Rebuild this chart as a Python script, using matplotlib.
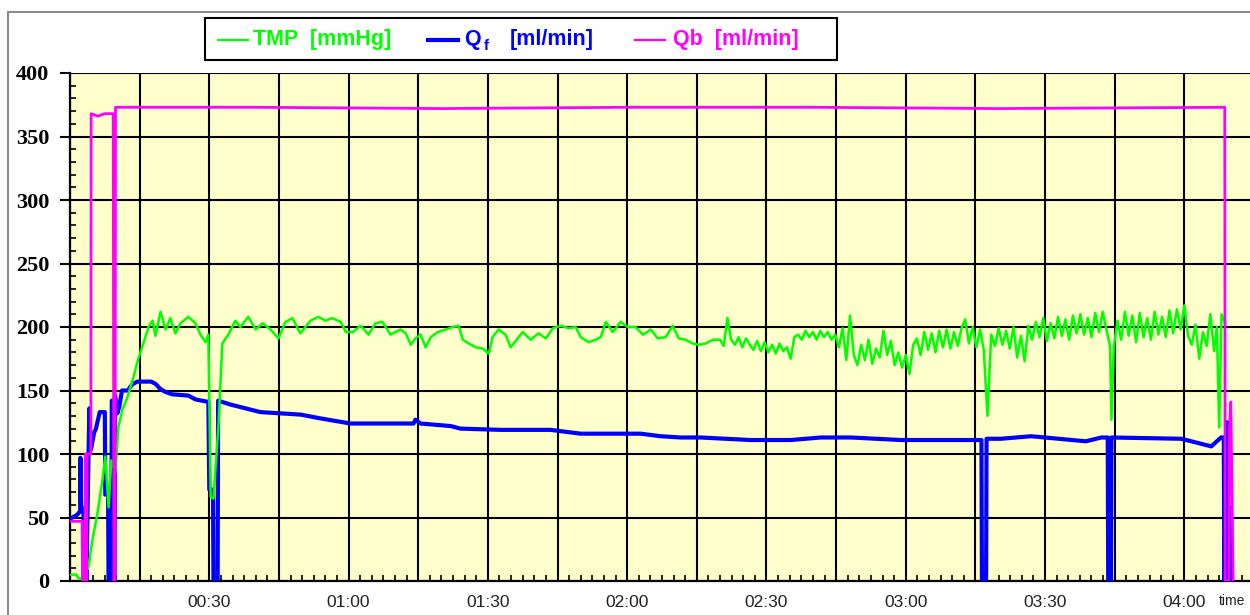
import matplotlib.pyplot as plt
from matplotlib.lines import Line2D
from matplotlib.patches import Rectangle
from matplotlib.ticker import MultipleLocator, FixedLocator

# time in minutes from start of treatment
tmp_t = [0.1, 1.4, 1.8, 2.7, 4.0, 4.8, 5.9, 7.0, 7.6, 8.3, 8.9, 9.8, 10.4, 11.3, 12.4,
         13.7, 14.7, 15.8, 16.9, 17.8, 18.4, 19.5, 20.6, 21.6, 22.7, 23.8, 25.5, 27.0,
         28.1, 29.2, 29.8, 30.3, 30.9, 32.0, 32.8, 34.1, 35.6, 36.7, 38.4, 40.0, 41.5,
         43.2, 44.9, 46.4, 47.9, 49.6, 51.8, 53.5, 55.0, 56.5, 58.3, 59.4, 60.9, 62.6,
         64.3, 65.8, 67.3, 69.0, 71.2, 72.3, 73.4, 74.4, 75.5, 76.6, 77.7, 79.2, 80.9,
         82.4, 83.7, 84.6, 85.9, 87.4, 88.9, 90.2, 91.0, 92.3, 93.8, 94.9, 96.4, 97.5,
         99.2, 100.9, 102.5, 104.0, 105.7, 107.4, 108.9, 110.0, 111.7, 113.2, 114.3,
         115.4, 116.9, 118.6, 120.1, 121.8, 123.4, 125.1, 126.6, 128.3, 129.8, 131.1,
         132.6, 134.1, 135.4, 136.9, 138.5,
         140.0, 140.8, 141.6, 142.4, 143.2, 144.0, 144.8, 145.6, 146.4, 147.2, 148.0,
         148.8, 149.6, 150.4, 151.2, 152.0, 152.8, 153.6, 154.4, 155.2, 156.0, 156.8,
         157.6, 158.4, 159.2, 160.0, 160.8, 161.6, 162.4, 163.2, 164.0, 164.8, 165.6,
         166.4, 167.2, 168.0, 168.8, 169.6, 170.4, 171.2, 172.0, 172.8, 173.6, 174.4,
         175.2, 176.0, 176.8, 177.6, 178.4, 179.2, 180.0, 180.8, 181.6, 182.4, 183.2,
         184.0, 184.8, 185.6, 186.4, 187.2, 188.0, 188.8, 189.6, 190.4, 191.2, 192.0,
         192.8, 193.6, 194.4, 195.2, 196.0, 196.8, 197.6, 198.4, 199.2, 200.0, 200.8,
         201.6, 202.4, 203.2, 204.0, 204.8, 205.6, 206.4, 207.2, 208.0, 208.8, 209.6,
         210.4, 211.2, 212.0, 212.8, 213.6, 214.4, 215.2, 216.0, 216.8, 217.6, 218.4,
         219.2, 220.0, 220.8, 221.6, 222.4, 223.2, 224.0, 224.3, 224.8, 225.6, 226.4,
         227.2, 228.0, 228.8, 229.6, 230.4, 231.2, 232.0, 232.8, 233.6, 234.4, 235.2,
         236.0, 236.8, 237.6, 238.4, 239.2, 240.0, 240.8, 241.6, 242.4, 243.2, 244.0,
         244.8, 245.6, 246.4, 247.0, 247.5, 248.0, 248.8]
tmp_v = [5, 5, 2, 2, 11, 32, 53, 80, 98, 58, 95, 86, 121, 135, 145,
         161, 175, 187, 200, 205, 193, 212, 198, 207, 195, 203, 208, 203,
         194, 188, 194, 66, 65, 124, 187, 194, 205, 200, 208, 198, 203,
         198, 191, 204, 207, 195, 205, 208, 205, 207, 204, 196, 196, 201,
         194, 203, 204, 194, 198, 195, 186, 191, 194, 184, 192, 196, 198,
         200, 201, 190, 187, 184, 183, 179, 192, 198, 194, 184, 191, 196,
         190, 195, 191, 199, 201, 199, 200, 192, 188, 190, 192,
         204, 196, 204, 200, 200, 194, 198, 191, 192, 201, 191,
         190, 187, 186, 187, 190,
         190, 185, 207, 190, 186, 192, 184, 191, 186, 182, 189,
         181, 188, 180, 186, 179, 187, 181, 184, 175, 192, 194,
         190, 197, 192, 196, 190, 197, 192, 196, 190, 194, 184,
         199, 174, 209, 178, 170, 186, 174, 190, 171, 183, 176,
         197, 178, 189, 170, 180, 168, 178, 163, 186, 191, 178,
         196, 182, 195, 180, 197, 184, 198, 183, 196, 185, 199,
         206, 187, 200, 184, 198, 182, 130, 194, 185, 199, 186,
         197, 183, 200, 176, 193, 173, 201, 190, 204, 192, 207,
         189, 203, 191, 208, 193, 206, 190, 209, 195, 210, 194,
         207, 192, 211, 196, 212, 198, 185, 127, 184, 205, 190,
         212, 193, 209, 188, 211, 192, 207, 190, 212, 194, 208,
         192, 213, 195, 214, 198, 217, 193, 186, 202, 175, 196,
         185, 210, 181, 200, 121, 210, 203]

qf_t = [0.0, 1.5, 2.2, 2.24, 2.4, 2.9, 3.0, 3.6, 3.7, 4.0, 4.18, 4.3, 4.6, 5.2, 5.6,
        5.9, 6.4, 7.5, 7.6, 8.2, 8.3, 8.9, 9.0, 9.2, 9.3, 9.6, 9.7, 10.2, 10.6, 11.2,
        12.5, 13.0, 13.5, 14.5, 17.5, 18.5, 19.5, 20.5, 22.0, 25.5, 27.0, 29.8, 30.0,
        30.8, 30.9, 31.8, 31.9, 34.5, 41.0, 49.7, 54.0, 60.4, 74.0, 74.4, 75.5, 82.0,
        84.1, 92.8, 103.5, 110.0, 122.9, 127.2, 131.5, 135.8, 146.6, 155.2, 161.7,
        168.2, 179.0, 189.7, 196.3, 196.4, 197.3, 197.4, 200.5, 207.0, 218.8, 222.1,
        223.5, 223.6, 224.2, 224.3, 239.3, 241.5, 245.8, 247.9, 248.5, 248.6, 249.2,
        249.5, 249.9, 250.1]
qf_v = [49, 52, 55, 97, 55, 57, 0, 0, 38, 102, 136, 102, 105, 117, 120,
        125, 133, 133, 68, 68, 0, 0, 142, 142, 0, 0, 146, 132, 137, 150,
        150, 153, 155, 157, 157, 155, 151, 149, 147, 146, 143, 141, 72,
        72, 0, 0, 142, 139, 133, 131, 128, 124, 124, 127, 124, 122,
        120, 119, 119, 116, 116, 114, 113, 113, 111, 111, 113,
        113, 111, 111, 111, 0, 0, 112, 112, 114, 110, 113,
        113, 0, 0, 113, 112, 110, 106, 113, 113, 0, 125,
        0, 58, 0]

qb_t = [0.0, 2.6, 2.7, 3.2, 3.3, 3.5, 3.7, 4.5, 4.55, 6.0, 7.5, 9.3, 9.35, 9.45,
        9.7, 9.8, 40.0, 80.0, 120.0, 160.0, 200.0, 248.7, 248.8, 249.6, 249.7,
        250.0, 250.3, 250.5]
qb_v = [47, 47, 0, 0, 100, 0, 100, 100, 368, 366, 368, 368, 276, 0,
        0, 373, 373, 372, 373, 373, 372, 373, 0, 0, 120,
        141, 60, 0]

x_ticks = [0, 15, 30, 45, 60, 75, 90, 105, 120, 135, 150, 165, 180, 195, 210, 225, 240]
x_labels = ['', '', '00:30', '', '01:00', '', '01:30', '', '02:00', '', '02:30', '',
            '03:00', '', '03:30', '', '04:00']
y_ticks = [0, 50, 100, 150, 200, 250, 300, 350, 400]

W, H = 1250, 615
fig = plt.figure(figsize=(W / 100, H / 100), dpi=100)

# outer frame
fig.patches.append(Rectangle((8 / W, -0.1), 1.2, (615 - 12) / H + 0.1, transform=fig.transFigure,
                             fill=False, edgecolor='#8c8c8c', linewidth=1.5))

ax = fig.add_axes([70 / W, 1 - 581 / H, 1184 / W, (581 - 73) / H])
ax.set_facecolor('#FFFFCC')
ax.set_xlim(0, 255)
ax.set_ylim(0, 400)

ax.plot(qf_t, qf_v, color='#0000FF', linewidth=3, zorder=3)
ax.plot(tmp_t, tmp_v, color='#00FF00', linewidth=1.8, zorder=4)
ax.plot(qb_t, qb_v, color='#FF00FF', linewidth=2, zorder=5)

ax.xaxis.set_major_locator(FixedLocator(x_ticks))
ax.set_xticklabels(x_labels, fontsize=12.5, family='Liberation Sans', color='#222222')
ax.xaxis.set_minor_locator(MultipleLocator(2.5))
ax.yaxis.set_major_locator(FixedLocator(y_ticks))
ax.set_yticklabels([str(v) for v in y_ticks], fontsize=16, family='Liberation Serif',
                   fontweight='bold')
ax.yaxis.set_minor_locator(MultipleLocator(10))

ax.tick_params(axis='x', which='major', length=0, pad=10)
ax.tick_params(axis='x', which='minor', direction='in', length=4, width=1.2)
ax.tick_params(axis='y', which='major', direction='out', length=7, width=1.5, pad=8)
ax.tick_params(axis='y', which='minor', direction='in', length=4, width=1.2)
ax.grid(True, which='major', color='black', linewidth=1.5, zorder=1)
ax.set_axisbelow(True)
for s in ['top', 'right']:
    ax.spines[s].set_visible(False)
for s in ['left', 'bottom']:
    ax.spines[s].set_linewidth(1.6)

fig.text(1232 / W, 1 - 601 / H, 'time', fontsize=10, family='Liberation Sans',
         ha='center', va='center', color='#222222')

# legend box
fig.patches.append(Rectangle((205 / W, 1 - 60 / H), (837 - 205) / W, 42 / H,
                             transform=fig.transFigure, fill=False,
                             edgecolor='black', linewidth=1.5))
ly = 1 - 40 / H
items = [(218, 248, '#00FF00', 1.6), (428, 458, '#0000FF', 3), (635, 665, '#FF00FF', 1.6)]
for x0, x1, c, lw in items:
    fig.lines.append(Line2D([x0 / W, x1 / W], [ly, ly], transform=fig.transFigure,
                            color=c, linewidth=lw))
lfont = dict(fontsize=15.5, fontweight='bold', family='Liberation Sans', va='center')
fig.text(253 / W, ly, 'TMP  [mmHg]', color='#00FF00', **lfont)
fig.text(464 / W, ly, 'Q', color='#0000FF', **lfont)
fig.text(484 / W, ly - 6 / H, 'f', color='#0000FF', fontsize=11, fontweight='bold',
         family='Liberation Sans', va='center')
fig.text(510 / W, ly, '[ml/min]', color='#0000FF', **lfont)
fig.text(673 / W, ly, 'Qb  [ml/min]', color='#FF00FF', **lfont)

fig.savefig('out.png', dpi=100)
